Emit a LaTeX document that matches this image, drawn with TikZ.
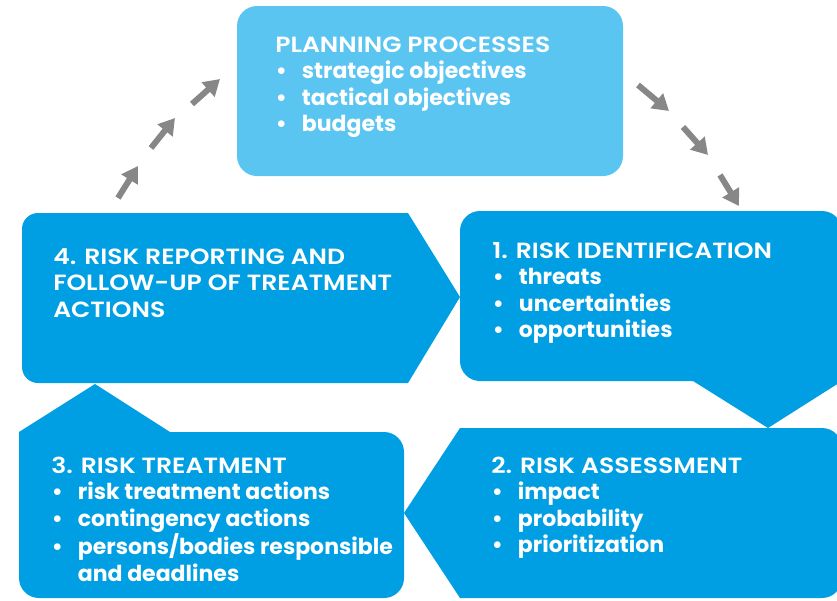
\documentclass[tikz,border=0pt]{standalone}
\usepackage{fontspec}
\setmainfont{Poppins}
\newfontfamily\headfont{Poppins}[UprightFont={* SemiBold},FakeStretch=1.14]
\usetikzlibrary{arrows.meta}

\definecolor{mainblue}{RGB}{0,159,227}
\definecolor{lightblue}{RGB}{91,197,242}
\definecolor{arrowgray}{RGB}{135,135,135}

% bullet followed by the item text at a fixed indent
\newcommand\itembul{\makebox[20pt][l]{\hspace{0.5pt}\textbullet}}
\newcommand\itemgap{\hspace*{20pt}}

\begin{document}
\begin{tikzpicture}[x=0.75pt,y=0.75pt,
  box/.style={fill=mainblue},
  topbox/.style={fill=lightblue},
  flow/.style={draw=arrowgray,line width=4.5pt,-{Triangle[length=12pt,width=14pt]}},
  label/.style={anchor=base west,inner sep=0pt,text=white,
    font=\fontsize{16.5pt}{19.9pt}\selectfont\bfseries}]

\useasboundingbox (0,0) rectangle (837,-600);
\clip (0,0) rectangle (837,-600);

% planning processes
\fill[topbox,rounded corners=15pt] (237,-176) rectangle (623,-6);

% step 4: risk reporting, pointing right
\fill[box] (408,-213) -- (460,-297) -- (408,-383) -- (38,-383)
  arc[start angle=270,end angle=180,radius=16] -- (22,-229)
  arc[start angle=180,end angle=90,radius=16] -- cycle;

% step 1: risk identification, pointing down
\fill[box] (480,-211) -- (822,-211)
  arc[start angle=90,end angle=0,radius=20] -- (842,-381)
  -- (768,-428) -- (693,-381) -- (480,-381)
  arc[start angle=270,end angle=180,radius=20] -- (460,-231)
  arc[start angle=180,end angle=90,radius=20] -- cycle;

% step 2: risk assessment, pointing left
\fill[box] (460,-428) -- (822,-428)
  arc[start angle=90,end angle=0,radius=20] -- (842,-578)
  arc[start angle=0,end angle=-90,radius=20] -- (460,-598)
  -- (404,-513) -- cycle;

% step 3: risk treatment, pointing up
\fill[box] (19,-432) -- (95,-384) -- (170,-432) -- (384,-432)
  arc[start angle=90,end angle=0,radius=20] -- (404,-578)
  arc[start angle=0,end angle=-90,radius=20] -- (39,-598)
  arc[start angle=270,end angle=180,radius=20] -- cycle;

% texts
\node[label] (plan) at (275,-52) {\begin{tabular}[t]{@{}l@{}}
  \headfont\mdseries PLANNING PROCESSES\\
  \itembul strategic objectives\\
  \itembul tactical objectives\\
  \itembul budgets
\end{tabular}};

\node[label] (ident) at (492,-258) {\begin{tabular}[t]{@{}l@{}}
  \headfont\mdseries 1. RISK IDENTIFICATION\\
  \itembul threats\\
  \itembul uncertainties\\
  \itembul opportunities
\end{tabular}};

\node[label] (assess) at (491,-473) {\begin{tabular}[t]{@{}l@{}}
  \headfont\mdseries 2. RISK ASSESSMENT\\
  \itembul impact\\
  \itembul probability\\
  \itembul prioritization
\end{tabular}};

\node[label] (treat) at (51,-473) {\begin{tabular}[t]{@{}l@{}}
  \headfont\mdseries 3. RISK TREATMENT\\
  \itembul risk treatment actions\\
  \itembul contingency actions\\
  \itembul persons/bodies responsible\\
  \itemgap and deadlines
\end{tabular}};

\node[label] (report) at (53,-264) {\begin{tabular}[t]{@{}l@{}}
  \headfont\mdseries 4. RISK REPORTING AND\\
  \headfont\mdseries FOLLOW-UP OF TREATMENT\\
  \headfont\mdseries ACTIONS
\end{tabular}};

% arrows from step 4 up to planning
\coordinate (l1s) at (118,-198); \coordinate (l1e) at (138,-166);
\coordinate (l2s) at (151,-148); \coordinate (l2e) at (175,-118);
\coordinate (l3s) at (192,-104); \coordinate (l3e) at (220,-79);
\draw[flow] (l1s) -- (l1e);
\draw[flow] (l2s) -- (l2e);
\draw[flow] (l3s) -- (l3e);

% arrows from planning down to step 1
\coordinate (r1s) at (638,-85);  \coordinate (r1e) at (669,-111);
\coordinate (r2s) at (683,-127); \coordinate (r2e) at (708,-155);
\coordinate (r3s) at (720,-175); \coordinate (r3e) at (739,-206);
\draw[flow] (r1s) -- (r1e);
\draw[flow] (r2s) -- (r2e);
\draw[flow] (r3s) -- (r3e);

\end{tikzpicture}
\end{document}
